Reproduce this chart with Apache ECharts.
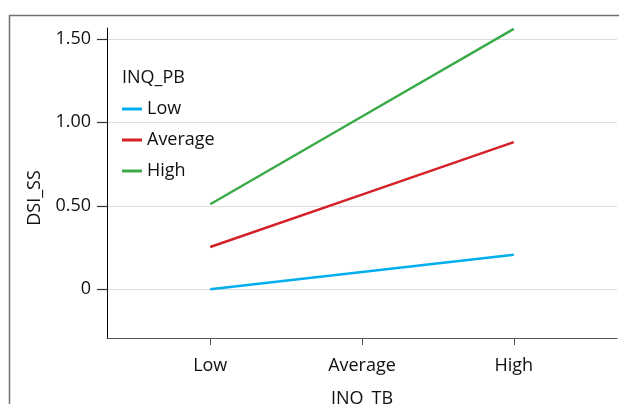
<!DOCTYPE html>
<html>
<head>
<meta charset="utf-8">
<script src="https://cdn.jsdelivr.net/npm/echarts@6/dist/echarts.min.js"></script>
<style>html,body{margin:0;padding:0;background:#fff;}#c{width:619px;height:404px;}</style>
</head>
<body>
<div id="c"></div>
<script>
var categories = ['Low', 'Average', 'High'];
var seriesNames = ['Low', 'Average', 'High'];
var lowValues = [0.00, 0.104, 0.207];
var averageValues = [0.253, 0.567, 0.881];
var highValues = [0.509, 1.035, 1.560];
var yTicks = [0, 0.5, 1.0, 1.5];
var xTicks = [0, 1, 2];
var legendTitle = 'INQ_PB';
var xName = 'INQ_TB';
var yName = 'DSI_SS';

var FONT = 'Open Sans';
var colors = ['#00AEEF', '#D42027', '#3BAA48'];
var allValues = [lowValues, averageValues, highValues];
var X_MIN = -0.68, X_MAX = 2.68;

function pairs(vals) {
  return vals.map(function (v, i) { return [xTicks[i], v]; });
}

var chart = echarts.init(document.getElementById('c'), null, {renderer: 'canvas'});
chart.setOption({
  animation: false,
  backgroundColor: '#fff',
  grid: {left: 107, top: 28, width: 510, height: 310, containLabel: false, outerBoundsMode: 'none'},
  xAxis: {
    type: 'value', min: X_MIN, max: X_MAX,
    name: xName, nameLocation: 'middle', nameGap: 52,
    nameTextStyle: {fontFamily: FONT, fontSize: 18, color: '#111'},
    axisLine: {show: true, onZero: false, lineStyle: {color: '#555', width: 1}},
    axisTick: {show: true, length: 7, customValues: xTicks, lineStyle: {color: '#555'}},
    axisLabel: {customValues: xTicks, margin: 19, fontFamily: FONT, fontSize: 18, color: '#111',
      formatter: function (v) { return categories[Math.round(v)]; }},
    splitLine: {show: false}
  },
  yAxis: {
    type: 'value', min: -0.292, max: 1.565,
    axisLine: {show: true, onZero: false, lineStyle: {color: '#000', width: 1}},
    axisTick: {show: true, length: 10, customValues: yTicks, lineStyle: {color: '#333', width: 1.2}},
    axisLabel: {customValues: yTicks, margin: 16, fontFamily: FONT, fontSize: 18, color: '#111',
      formatter: function (v) { return v === 0 ? '0' : v.toFixed(2); }},
    splitLine: {show: true, lineStyle: {color: '#dcdcdc', width: 1}}
  },
  legend: {
    data: seriesNames, orient: 'vertical', left: 122, top: 99, padding: 0,
    icon: 'rect', itemWidth: 20, itemHeight: 3, itemGap: 11,
    textStyle: {fontFamily: FONT, fontSize: 18, color: '#111', lineHeight: 20}
  },
  graphic: [
    {type: 'rect', left: 7, top: 13, shape: {width: 700, height: 500},
      style: {fill: 'none', stroke: '#707070', lineWidth: 1.5}, silent: true, z: -1},
    {type: 'text', x: 122, y: 78, style: {text: legendTitle, fontFamily: FONT, fontSize: 18,
      fill: '#111', verticalAlign: 'middle', align: 'left'}},
    {type: 'text', x: 35, y: 198, rotation: Math.PI / 2, style: {text: yName, fontFamily: FONT,
      fontSize: 18, fill: '#111', verticalAlign: 'middle', align: 'center'}}
  ],
  series: seriesNames.map(function (n, i) {
    return {
      name: n, type: 'line', data: pairs(allValues[i]), symbol: 'none',
      lineStyle: {color: colors[i], width: 2.5}, itemStyle: {color: colors[i]}
    };
  })
});
</script>
</body>
</html>
